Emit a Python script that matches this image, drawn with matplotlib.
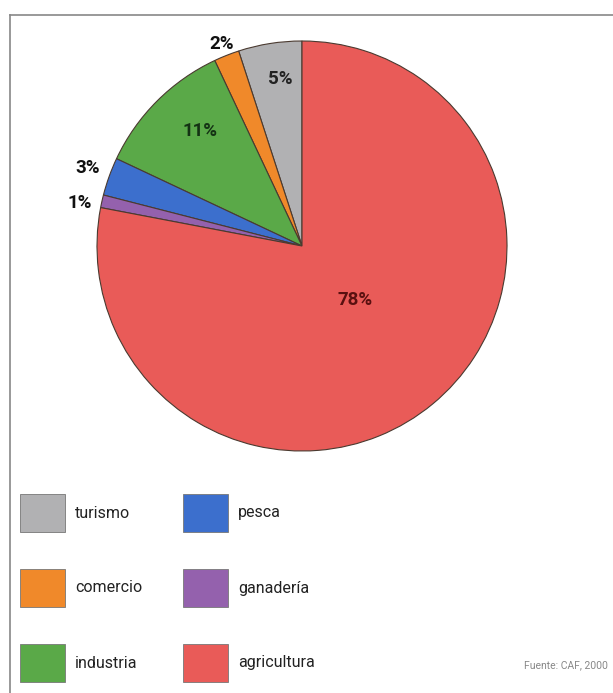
import matplotlib
matplotlib.use("Agg")
import matplotlib.pyplot as plt
from matplotlib.patches import Rectangle
from matplotlib.lines import Line2D

categories = ["turismo", "comercio", "industria", "pesca", "ganadería", "agricultura"]
values = [5, 2, 11, 3, 1, 78]
labels = ["5%", "2%", "11%", "3%", "1%", "78%"]
colors = ["#b1b1b3", "#f0892a", "#5aa948", "#3c6fcd", "#9461ad", "#e95b58"]
label_colors = ["#222222", "#111111", "#143214", "#111111", "#111111", "#5a1010"]
legend_order = ["turismo", "comercio", "industria", "pesca", "ganadería", "agricultura"]

W, H = 613, 693
fig = plt.figure(figsize=(W / 100, H / 100), dpi=100)
fig.patch.set_facecolor("white")

fam = ["Roboto", "DejaVu Sans"]

# frame lines
fig.add_artist(Line2D([10 / W, 1], [1 - 15 / H, 1 - 15 / H], color="#888888", lw=1.2))
fig.add_artist(Line2D([10 / W, 10 / W], [0, 1 - 15 / H], color="#888888", lw=1.2))

# pie
cx, cy, r = 302, 246, 205
ax = fig.add_axes([(cx - r) / W, 1 - (cy + r) / H, 2 * r / W, 2 * r / H])
wedges, _ = ax.pie(values, colors=colors, startangle=90, counterclock=True,
                   wedgeprops=dict(edgecolor="#4a3a30", linewidth=0.8))
ax.set_xlim(-1, 1)
ax.set_ylim(-1, 1)
ax.set_aspect("equal")
ax.axis("off")

def pos(px, py):
    return ((px - cx) / r, -(py - cy) / r)

label_pos = [pos(280, 79), pos(222, 44), pos(200, 131), pos(88, 168), pos(80, 203), pos(355, 300)]
for lab, (x, y), c in zip(labels, label_pos, label_colors):
    ax.text(x, y, lab, ha="center", va="center", fontsize=13.5, fontweight="bold",
            color=c, family=fam)

# legend
rows_y = [513, 588, 663]
cols_x = [20, 183]
sq_w, sq_h = 45, 38
for i, cat in enumerate(legend_order):
    col = i // 3
    row = i % 3
    x0 = cols_x[col]
    yc = rows_y[row]
    color = colors[categories.index(cat)]
    fig.add_artist(Rectangle((x0 / W, 1 - (yc + sq_h / 2) / H), sq_w / W, sq_h / H,
                             facecolor=color, edgecolor="#777777", linewidth=0.6,
                             transform=fig.transFigure))
    fig.text((x0 + sq_w + 10) / W, 1 - yc / H, cat, ha="left", va="center",
             fontsize=11.5, color="#222222", family=fam)

fig.text(608 / W, 1 - 665 / H, "Fuente: CAF, 2000", ha="right", va="center",
         fontsize=7.5, color="#888888", family=fam)

fig.savefig("out.png", dpi=100)
